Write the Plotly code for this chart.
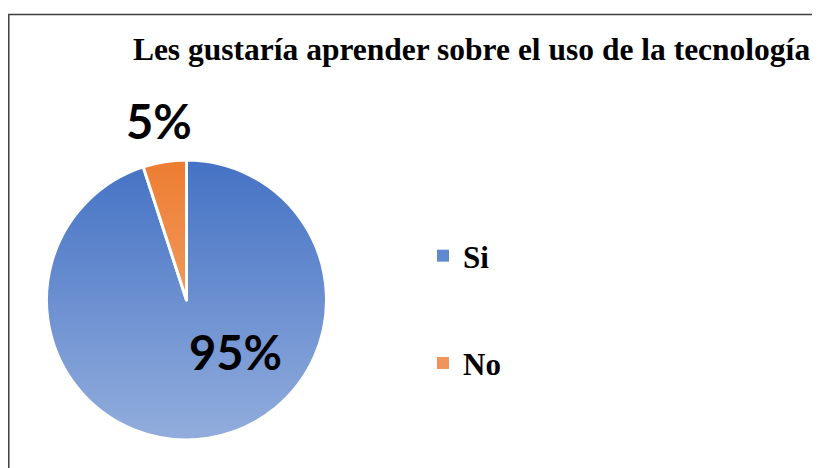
import base64
import plotly.graph_objects as go

labels = ["Si", "No"]
values = [95, 5]
colors = ["#4472C4", "#ED7D31"]
legend_colors = ["#6189D0", "#F1935A"]
title_text = "Les gustaría aprender sobre el uso de la tecnología"

W, H = 820, 468
OFF = 8  # page body margin of the html output


def fx(x):
    return (x - OFF) / W


def fy(y):
    return 1 - (y - OFF) / H


# pie geometry in screen pixels (center / radius)
cx, cy, r = 186.5, 300, 140

fig = go.Figure()
fig.add_trace(go.Pie(
    labels=labels,
    values=values,
    sort=False,
    direction="clockwise",
    rotation=0,
    textinfo="none",
    hoverinfo="label+percent",
    marker=dict(colors=colors, line=dict(color="white", width=3)),
    domain=dict(x=[fx(cx - r), fx(cx + r)], y=[fy(cy + r), fy(cy - r)]),
    showlegend=False,
))

# legend entries
for lab, col in zip(labels, legend_colors):
    fig.add_trace(go.Scatter(
        x=[None], y=[None], mode="markers", name=lab,
        legendgroup=lab,
        marker=dict(symbol="square", size=12, color=col),
    ))

# vertical light gradient over the pie, like the office fill
grad = ("<svg xmlns='http://www.w3.org/2000/svg' width='100' height='100' preserveAspectRatio='none'>"
        "<defs><linearGradient id='g' x1='0' y1='0' x2='0' y2='1'>"
        "<stop offset='0' stop-color='white' stop-opacity='0'/>"
        "<stop offset='1' stop-color='white' stop-opacity='0.42'/>"
        "</linearGradient></defs><rect width='100' height='100' fill='url(#g)'/></svg>")
fig.add_layout_image(
    source="data:image/svg+xml;base64," + base64.b64encode(grad.encode()).decode(),
    xref="paper", yref="paper", x=fx(cx - r - 2), y=fy(cy - r - 1),
    sizex=(2 * r + 4) / W, sizey=(2 * r + 2) / H,
    xanchor="left", yanchor="top", sizing="stretch", layer="above",
)

# percentage labels
label_pos = {"Si": (235.5, 352), "No": (158.7, 121)}
total = sum(values)
for lab, v in zip(labels, values):
    px, py = label_pos[lab]
    fig.add_annotation(
        x=fx(px), y=fy(py), xref="paper", yref="paper",
        xanchor="center", yanchor="middle",
        text=f"{round(100 * v / total)}%", showarrow=False,
        font=dict(family="Lato", size=47, color="black", weight="bold"),
    )

# outer frame
fig.add_shape(type="rect", xref="paper", yref="paper",
              x0=fx(8.8), x1=1.2, y0=-0.2, y1=fy(14.5),
              line=dict(color="#404040", width=1.5))

fig.update_layout(
    width=W, height=H,
    margin=dict(l=0, r=0, t=0, b=0),
    paper_bgcolor="white", plot_bgcolor="white",
    title=dict(text=title_text, x=fx(471.5), xanchor="center",
               y=fy(49), yanchor="middle",
               font=dict(family="Liberation Serif", size=31.5, color="black", weight="bold")),
    xaxis=dict(visible=False), yaxis=dict(visible=False),
    legend=dict(x=fx(423), y=fy(229), xanchor="left", yanchor="top",
                tracegroupgap=64, bgcolor="rgba(0,0,0,0)",
                font=dict(family="Liberation Serif", size=31, color="black", weight="bold")),
)

fig.write_html("out.html")
